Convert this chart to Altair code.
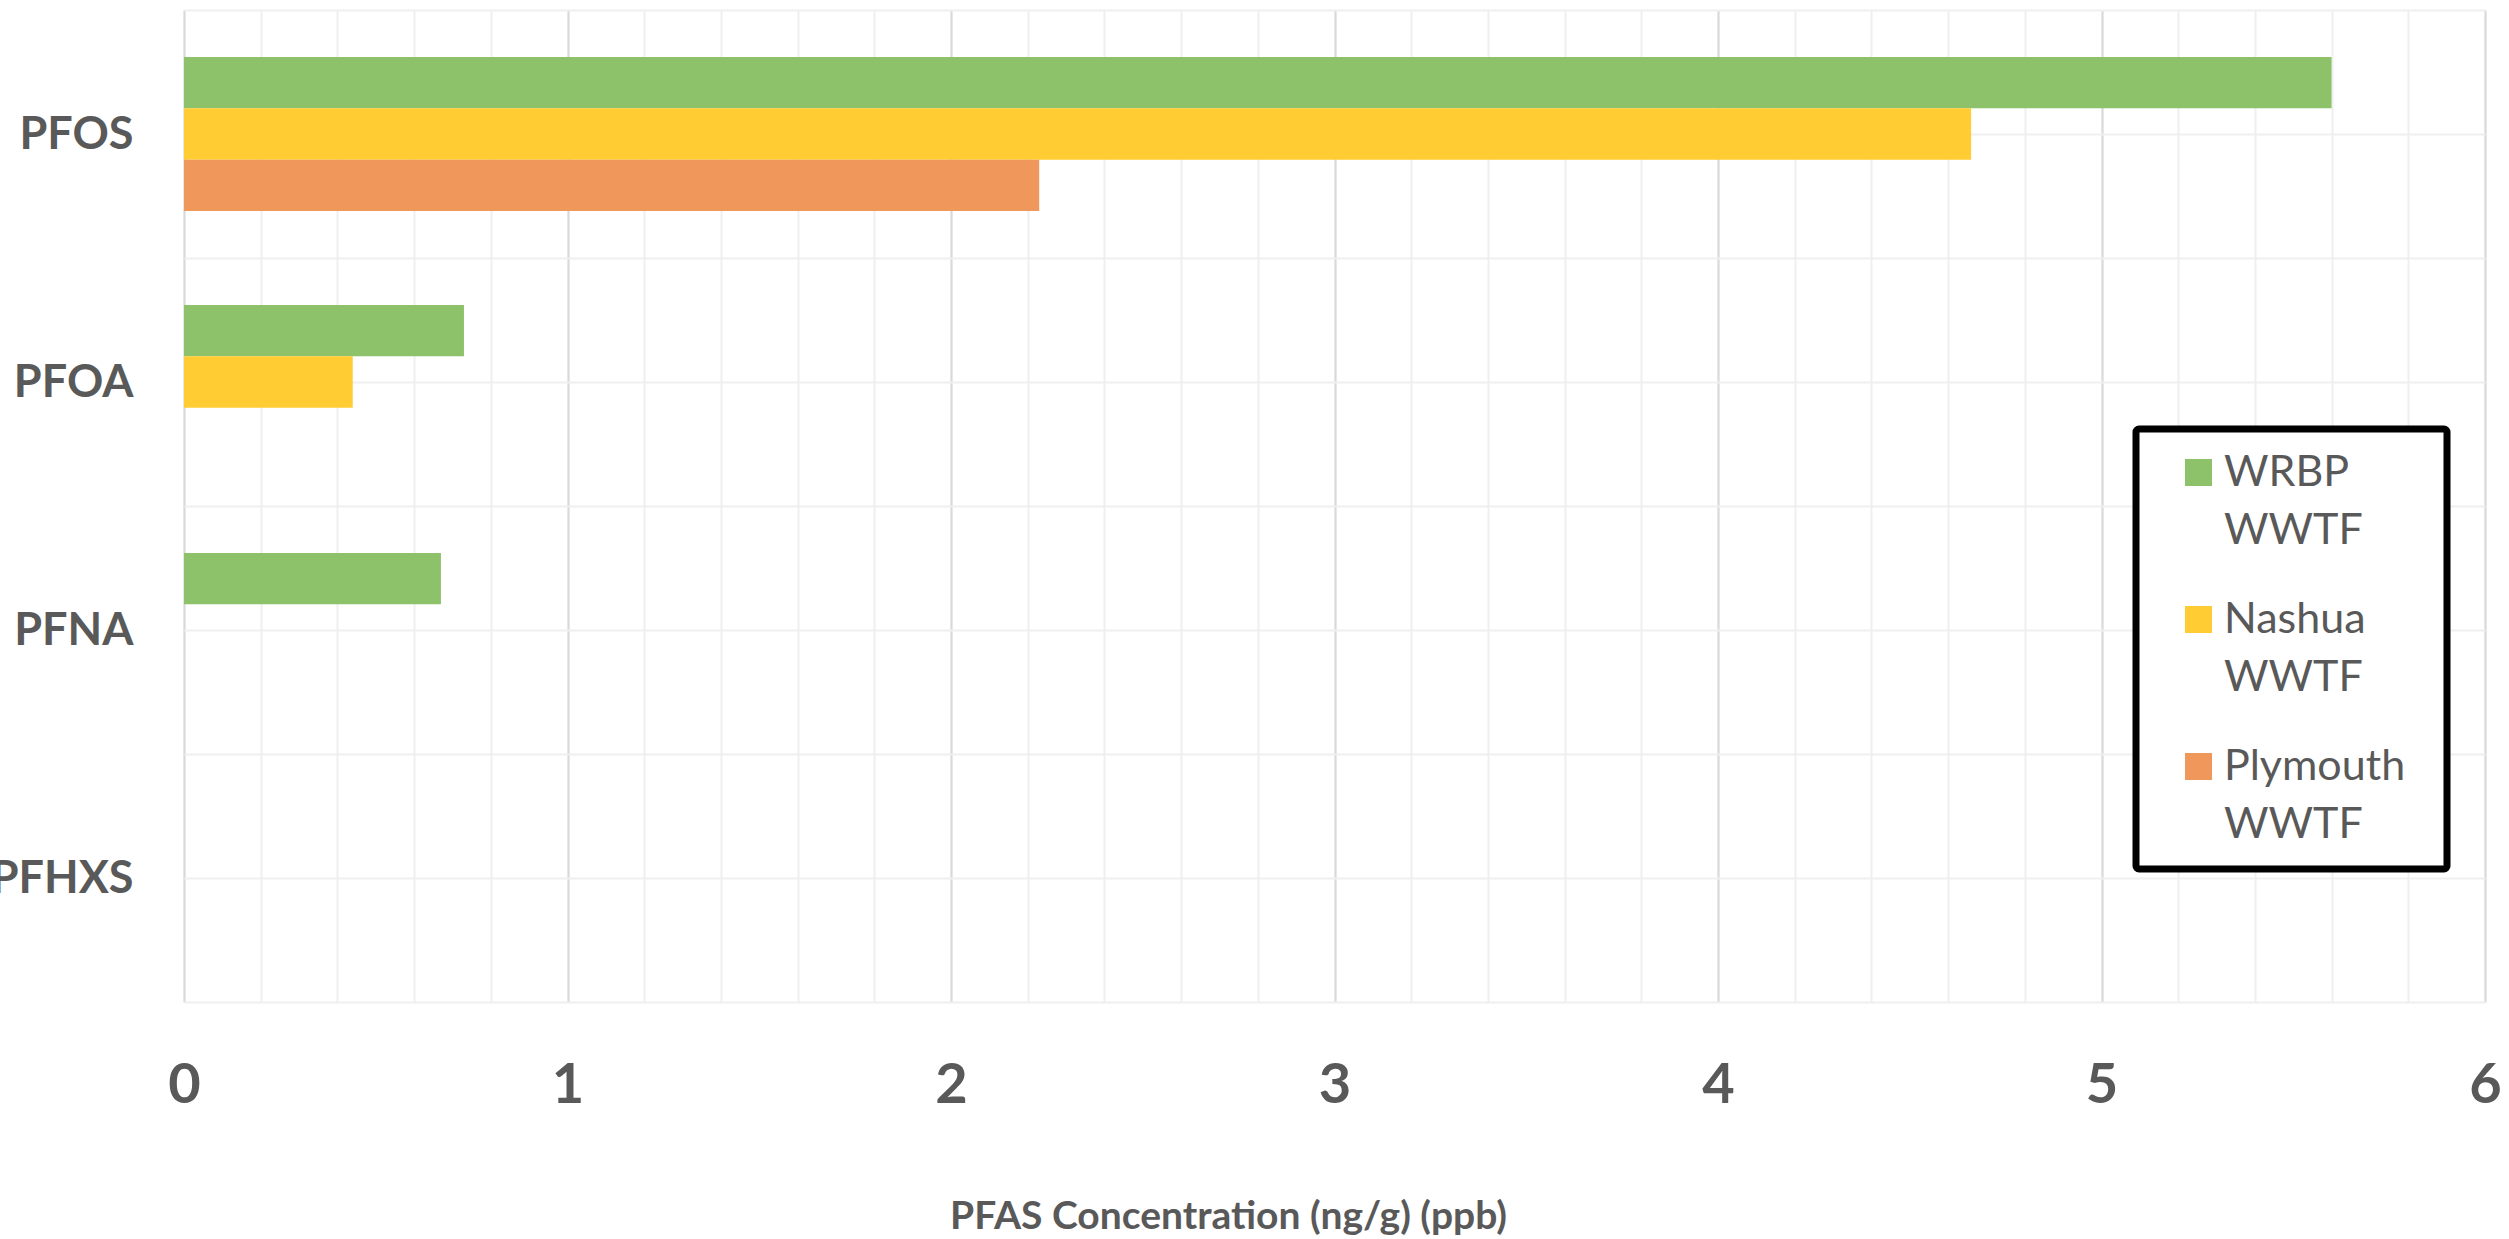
import altair as alt
import pandas as pd

# Compounds (top to bottom) and treatment facilities
compounds = ["PFOS", "PFOA", "PFNA", "PFHXS"]
facilities = ["WRBP WWTF", "Nashua WWTF", "Plymouth WWTF"]

# PFAS concentration in ng/g (ppb); None = not detected
wrbp = [5.60, 0.73, 0.67, None]
nashua = [4.66, 0.44, None, None]
plymouth = [2.23, None, None, None]

colors = ["#8dc26b", "#ffcc33", "#f0985b"]
x_major = [0, 1, 2, 3, 4, 5, 6]
x_minor = [round(i * 0.2, 1) for i in range(31)]

rows = []
for fac, vals in zip(facilities, [wrbp, nashua, plymouth]):
    for comp, v in zip(compounds, vals):
        rows.append({"compound": comp, "facility": fac, "value": v})
df = pd.DataFrame(rows)

FONT = "Lato"
GRAY = "#595959"
LIGHT = "#efefef"

x_scale = alt.Scale(domain=[0, 6], nice=False, zero=True)
y_scale = alt.Scale(domain=compounds, paddingInner=0, paddingOuter=0)

# Minor gridlines: every 0.2 on x, category centres on y
minor = alt.Chart(df).mark_bar(opacity=0).encode(
    x=alt.X("value:Q", scale=x_scale,
            axis=alt.Axis(values=x_minor, grid=True, gridColor=LIGHT, gridWidth=2,
                          labels=False, ticks=False, domain=False, title=None,
                          orient="bottom")),
    y=alt.Y("compound:N", scale=y_scale,
            axis=alt.Axis(grid=True, tickBand="center", gridColor=LIGHT, gridWidth=2,
                          labels=False, ticks=False, domain=False, title=None,
                          orient="left")),
)

# Facility names wrap onto two lines in the legend
legend_label = "split(datum.label, ' ')"

bars = alt.Chart(df).mark_bar().encode(
    x=alt.X("value:Q", scale=x_scale,
            axis=alt.Axis(values=x_major, grid=True, gridColor="#d9d9d9", gridWidth=2,
                          labelFont=FONT, labelFontSize=56, labelFontWeight="bold",
                          labelColor=GRAY, labelPadding=56, labelFlush=False,
                          labelOverlap=False, ticks=False, tickSize=0, domain=False,
                          title="PFAS Concentration (ng/g) (ppb)",
                          titleFont=FONT, titleFontSize=39, titleFontWeight="bold",
                          titleColor=GRAY, titleX=1044, titleY=226,
                          titleAlign="center", titleBaseline="alphabetic",
                          orient="bottom")),
    y=alt.Y("compound:N", scale=y_scale,
            axis=alt.Axis(grid=True, tickBand="extent", gridColor=LIGHT, gridWidth=2,
                          labelFont=FONT, labelFontSize=45, labelFontWeight="bold",
                          labelColor=GRAY, labelPadding=51, ticks=False, tickSize=0,
                          domain=False, title=None, orient="left")),
    yOffset=alt.YOffset("facility:N", sort=facilities,
                        scale=alt.Scale(domain=facilities, paddingInner=0, paddingOuter=0.917)),
    color=alt.Color("facility:N",
                    scale=alt.Scale(domain=facilities, range=colors),
                    legend=alt.Legend(
                        # blank title on the right side gives the frame some room
                        title="\u00a0", titleOrient="right", titlePadding=20,
                        titleFontSize=10,
                        orient="none", legendX=1952, legendY=419,
                        direction="vertical",
                        symbolType="square", symbolSize=729, symbolStrokeWidth=0,
                        symbolOpacity=1,
                        labelFont=FONT, labelFontSize=43, labelColor=GRAY,
                        labelBaseline="middle", labelLimit=400,
                        labelExpr=legend_label,
                        labelOffset=4, symbolOffset=19,
                        rowPadding=45, padding=22,
                        strokeColor="black", cornerRadius=3, fillColor="white",
                    )),
)

chart = (
    alt.layer(minor, bars)
    .resolve_axis(x="independent", y="independent")
    .properties(
        width=2301, height=992,
        padding={"left": 184, "top": 10, "right": 24, "bottom": 237},
        autosize=alt.AutoSizeParams(type="none"),
        background="white",
    )
    .configure(style={"guide-label": {"lineHeight": 58}})
    .configure_view(stroke=None)
    .configure_legend(strokeWidth=7)
)

chart.save("out.html", embed_options={"renderer": "svg", "actions": False})
